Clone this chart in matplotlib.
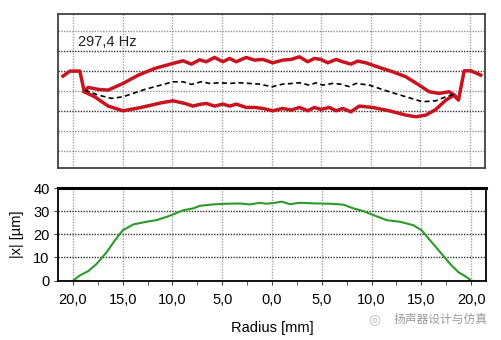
import matplotlib
matplotlib.use("Agg")
import matplotlib.pyplot as plt
from matplotlib.ticker import FixedLocator, FuncFormatter

# ---- data ----
r_up = [-21.0, -20.3, -19.3, -18.85, -18.46, -17.45, -16.45, -14.95, -13.4, -11.75,
        -9.92, -8.9, -8.07, -7.24, -6.57, -5.73, -4.89, -4.22, -3.55, -2.55,
        -1.71, -0.87, 0.13, 1.14, 1.97, 2.81, 3.65, 4.32, 4.99, 5.66,
        6.50, 7.17, 8.0, 8.68, 9.5, 10.85, 12.2, 13.53, 14.87, 15.88,
        16.88, 17.89, 18.39, 18.83, 19.4, 20.07, 21.07]
y_up = [0.735, 0.985, 0.985, -0.05, 0.17, 0.07, 0.035, 0.37, 0.785, 1.12,
        1.37, 1.50, 1.335, 1.55, 1.452, 1.668, 1.452, 1.618, 1.452, 1.668,
        1.535, 1.568, 1.40, 1.535, 1.568, 1.70, 1.452, 1.618, 1.568, 1.40,
        1.568, 1.452, 1.335, 1.485, 1.40, 1.168, 0.952, 0.702, 0.285, -0.048,
        -0.132, -0.048, -0.215, -0.465, 1.0, 1.0, 0.785]

r_lo = [-18.85, -17.8, -16.45, -14.95, -13.1, -11.1, -9.92, -8.74, -7.9, -7.24,
        -6.57, -5.73, -4.89, -4.22, -3.55, -2.55, -1.71, -0.87, 0.13, 1.14,
        1.97, 2.81, 3.65, 4.32, 4.99, 5.83, 6.50, 7.17, 8.0, 8.84,
        10.18, 11.86, 13.53, 14.54, 15.55, 16.55, 17.56, 18.39, 18.6]
y_lo = [-0.05, -0.3, -0.765, -1.0, -0.83, -0.6, -0.5, -0.63, -0.765, -0.68,
        -0.632, -0.765, -0.665, -0.765, -0.665, -0.832, -0.832, -0.882, -0.998, -0.882,
        -0.965, -0.832, -0.998, -0.832, -0.932, -0.832, -0.998, -0.882, -1.05, -0.765,
        -0.832, -1.0, -1.215, -1.298, -1.215, -0.932, -0.465, -0.215, -0.33]

r_mean = [-18.8, -17.45, -16.1, -14.95, -12.76, -9.92, -8.9, -8.07, -7.07, -6.23,
          -5.23, -4.22, -3.22, -2.22, -1.21, 0.07, 1.14, 2.14, 2.81, 3.81,
          4.49, 5.16, 6.16, 6.9, 7.84, 8.51, 9.85, 11.86, 13.53, 15.2,
          16.55, 17.56, 18.39, 18.6]
y_mean = [0.035, -0.215, -0.38, -0.3, 0.07, 0.45, 0.45, 0.32, 0.45, 0.368,
          0.402, 0.368, 0.402, 0.368, 0.335, 0.202, 0.335, 0.368, 0.402, 0.285,
          0.402, 0.285, 0.368, 0.335, 0.21, 0.368, 0.285, -0.048, -0.298, -0.548,
          -0.498, -0.298, -0.165, -0.25]

r_amp = [-19.97, -19.3, -18.46, -17.62, -16.6, -15.78, -15.0, -13.9, -12.6, -11.6,
         -10.6, -9.92, -8.9, -7.9, -7.24, -5.9, -4.55, -3.2, -2.21, -1.2,
         -0.54, 0.13, 0.97, 1.81, 2.81, 4.49, 5.83, 7.17, 8.17, 9.18,
         10.18, 11.52, 12.86, 14.2, 15.04, 15.88, 16.89, 17.89, 18.73, 19.57, 19.9]
amp = [0.0, 2.2, 4.06, 7.2, 12.3, 17.4, 21.7, 24.3, 25.4, 26.1,
       27.5, 28.6, 30.4, 31.2, 32.3, 32.9, 33.2, 33.3, 32.9, 33.6,
       33.2, 33.5, 34.1, 33.0, 33.6, 33.3, 33.2, 32.8, 31.2, 30.0,
       28.3, 26.1, 25.4, 23.9, 21.7, 17.4, 12.3, 7.2, 3.6, 1.4, 0.4]

x_ticks = [-20, -15, -10, -5, 0, 5, 10, 15, 20]
x_minor = [-17.5, -12.5, -7.5, -2.5, 2.5, 7.5, 12.5, 17.5]
y_ticks_amp = [0, 10, 20, 30, 40]
freq_label = "297,4 Hz"
x_label = "Radius [mm]"
y_label = "|x| [µm]"
watermark = "扬声器设计与仿真"

plt.rcParams['font.family'] = ['Liberation Sans', 'DejaVu Sans']

W, H = 501, 340
fig = plt.figure(figsize=(W / 100, H / 100), dpi=100)

def frac(l, t, r, b):
    return [l / W, 1 - b / H, (r - l) / W, (b - t) / H]

# ---- top panel ----
ax1 = fig.add_axes(frac(58, 14, 485, 168))
ax1.set_xlim(-21.5, 21.5)
ax1.set_ylim(-3.86, 3.84)
ax1.xaxis.set_major_locator(FixedLocator(x_ticks))
ax1.yaxis.set_major_locator(FixedLocator([-1, 1, 2]))
ax1.yaxis.set_minor_locator(FixedLocator([-3, -2, 0, 3]))
ax1.tick_params(which='both', length=0, labelbottom=False, labelleft=False)
ax1.grid(True, axis='x', which='major', color='#a0a0a0', linestyle=(0, (1, 1)), lw=1.0)
ax1.grid(True, axis='y', which='major', color='#303030', linestyle=(0, (1, 1)), lw=1.0)
ax1.grid(True, axis='y', which='minor', color='#909090', linestyle=(0, (1, 1)), lw=1.0)
for s in ax1.spines.values():
    s.set_color('#404040')
    s.set_linewidth(1.3)
ax1.plot(r_up, y_up, color='#c8141e', lw=2.5, solid_joinstyle='round')
ax1.plot(r_lo, y_lo, color='#c8141e', lw=2.5, solid_joinstyle='round')
ax1.plot(r_mean, y_mean, color='black', lw=1.2, linestyle=(0, (3, 2)))
ax1.text(0.047, 0.815, freq_label, transform=ax1.transAxes, fontsize=10.5,
         color='#202020', ha='left', va='center')

# ---- bottom panel ----
ax2 = fig.add_axes(frac(58, 188, 486, 280.5))
ax2.set_xlim(-21.5, 21.5)
ax2.set_ylim(0, 40)
ax2.xaxis.set_major_locator(FixedLocator(x_ticks))
ax2.xaxis.set_minor_locator(FixedLocator(x_minor))
ax2.yaxis.set_major_locator(FixedLocator(y_ticks_amp))
ax2.xaxis.set_major_formatter(FuncFormatter(lambda v, p: f"{abs(v):.1f}".replace('.', ',')))
ax2.tick_params(axis='x', which='both', direction='out', length=3, color='#404040',
                labelsize=10.5, pad=6)
ax2.tick_params(axis='y', which='major', direction='out', length=3, color='#404040',
                labelsize=10.5, pad=3)
ax2.grid(True, axis='x', which='major', color='#a0a0a0', linestyle=(0, (1, 1)), lw=1.0)
ax2.grid(True, axis='y', which='major', color='#303030', linestyle=(0, (1, 1)), lw=1.0)
for s in ax2.spines.values():
    s.set_color('black')
    s.set_linewidth(1.3)
ax2.spines['top'].set_linewidth(2.2)
ax2.plot(r_amp, amp, color='#2a9a2a', lw=1.5)
ax2.set_xlabel(x_label, fontsize=10.5, labelpad=10)
ax2.set_ylabel(y_label, fontsize=10.5, labelpad=7)

fig.text(0.973, 0.062, watermark, fontsize=8.5, color='#9a9a9a', ha='right', va='center',
         family=['Noto Sans CJK SC', 'DejaVu Sans'])
fig.text(0.748, 0.062, "◎", fontsize=10, color='#b8b8b8', ha='center', va='center',
         family=['DejaVu Sans'])

fig.savefig("out.png", dpi=100)
